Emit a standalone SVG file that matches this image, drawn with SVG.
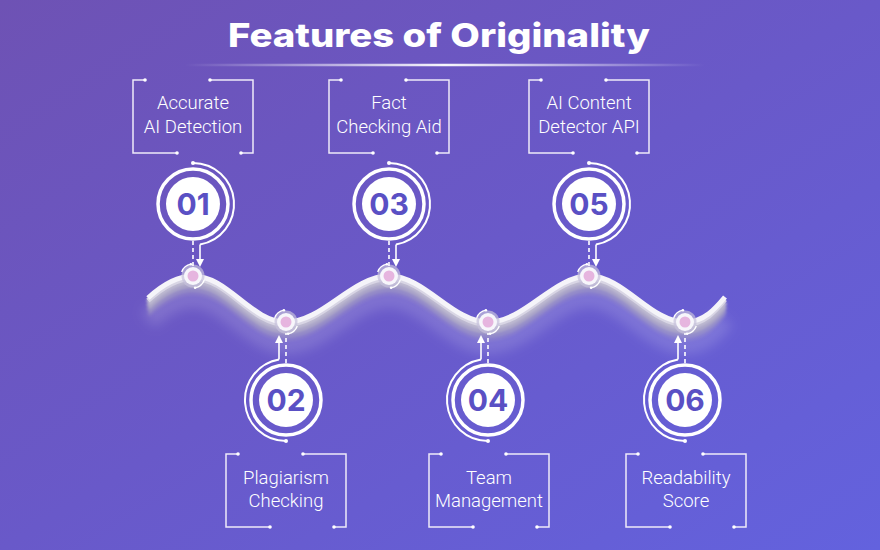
<svg xmlns="http://www.w3.org/2000/svg" xmlns:xlink="http://www.w3.org/1999/xlink" width="880" height="550" viewBox="0 0 880 550">
<defs>
  <linearGradient id="bg" x1="0" y1="0" x2="1" y2="1">
    <stop offset="0" stop-color="#6e52b4"/>
    <stop offset="0.5" stop-color="#6959c9"/>
    <stop offset="1" stop-color="#6362de"/>
  </linearGradient>
  <linearGradient id="uline" gradientUnits="userSpaceOnUse" x1="185" y1="0" x2="705" y2="0">
    <stop offset="0" stop-color="#ffffff" stop-opacity="0"/>
    <stop offset="0.5" stop-color="#ffffff" stop-opacity="0.95"/>
    <stop offset="1" stop-color="#ffffff" stop-opacity="0"/>
  </linearGradient>
  <filter id="glow" x="-10%" y="-100%" width="120%" height="300%">
    <feGaussianBlur stdDeviation="6"/>
  </filter>
  <filter id="soft" x="-10%" y="-100%" width="120%" height="300%">
    <feGaussianBlur stdDeviation="1.2"/>
  </filter>
  <marker id="arr" viewBox="0 0 6 6" refX="3" refY="3" markerWidth="5" markerHeight="5" orient="auto">
    <path d="M0,0 L6,3 L0,6 z" fill="#ffffff"/>
  </marker>
  <path id="wave" fill="none" d="M148,298 C160,287 176,276 193,276 C228,276 251,322 286,322 C323,322 352,276 389,276 C425,276 452,322 488,322 C525,322 553,276 589,276 C624,276 650,322 685,322 C704,322 716,308 725,297"/>
  <g id="box" class="bracket">
    <path d="M12,0 H0 V73 H44 M77,0 H120 V73 H108"/>
    <circle cx="12" cy="0" r="1.8" class="dotf"/>
    <circle cx="44" cy="73" r="1.8" class="dotf"/>
    <circle cx="77" cy="0" r="1.8" class="dotf"/>
    <circle cx="108" cy="73" r="1.8" class="dotf"/>
  </g>
  <g id="wnode">
    <circle r="11.5" fill="#c6c1dc" opacity="0.7"/>
    <circle r="9" fill="#f7f6fb"/>
    <circle r="5.5" fill="#e6b5df"/>
    <path d="M-11.28,-4.1 A12,12 0 0 1 -2.08,-11.82 M11.28,4.1 A12,12 0 0 1 2.08,11.82" fill="none" stroke="#ffffff" stroke-width="1.4"/>
    <circle cx="-2.08" cy="-11.82" r="1.3" fill="#ffffff"/>
    <circle cx="2.08" cy="11.82" r="1.3" fill="#ffffff"/>
  </g>
  <g id="ring">
    <circle r="35" fill="none" stroke="#ffffff" stroke-width="3.5"/>
    <circle r="27" fill="#ffffff"/>
  </g>
</defs>
<style>
  .bracket path { fill: none; stroke: #eeeaf9; stroke-width: 1.5; }
  .dotf { fill: #ffffff; }
  .lbl { font-family: Roboto, "Liberation Sans", sans-serif; font-weight: 300; font-size: 18.5px; fill: #ffffff; text-anchor: middle; }
  .num { font-family: Inter, "Liberation Sans", sans-serif; font-weight: 700; font-size: 30px; fill: #5a50c4; text-anchor: middle; }
  .arc { fill: none; stroke: #ffffff; stroke-width: 2; }
  .dash { fill: none; stroke: #ffffff; stroke-width: 1.6; stroke-dasharray: 4 3; }
  .solid { fill: none; stroke: #ffffff; stroke-width: 1.6; }
</style>

<rect width="880" height="550" fill="url(#bg)"/>

<g id="title">
  <text x="439" y="47" text-anchor="middle" font-family="Inter, 'Liberation Sans', sans-serif" font-weight="800" font-size="33" fill="#ffffff" textLength="422" lengthAdjust="spacingAndGlyphs">Features of Originality</text>
  <line x1="185" y1="65" x2="705" y2="65" stroke="url(#uline)" stroke-width="2.5"/>
</g>

<g id="wave-ribbon">
  <use href="#wave" transform="translate(0,22)" stroke="#ffffff" stroke-opacity="0.15" stroke-width="20" filter="url(#glow)"/>
  <g filter="url(#soft)">
    <use href="#wave" transform="translate(0,17)" stroke="#a39dc2" stroke-opacity="0.25" stroke-width="5"/>
    <use href="#wave" transform="translate(0,13)" stroke="#a8a2c4" stroke-opacity="0.55" stroke-width="6"/>
    <use href="#wave" transform="translate(0,9)" stroke="#b0abc8" stroke-opacity="0.85" stroke-width="6"/>
    <use href="#wave" transform="translate(0,5)" stroke="#bdb9d0" stroke-width="6"/>
  </g>
  <use href="#wave" transform="translate(0,2.5)" stroke="#d8d5e4" stroke-width="5"/>
  <use href="#wave" stroke="#f5f4f9" stroke-width="5"/>
</g>

<g id="wave-points">
  <use href="#wnode" x="193" y="276"/>
  <use href="#wnode" x="286" y="322"/>
  <use href="#wnode" x="389" y="276"/>
  <use href="#wnode" x="488" y="322"/>
  <use href="#wnode" x="589" y="276"/>
  <use href="#wnode" x="685" y="322"/>
</g>

<g id="connectors">
  <path class="dash" d="M193,241 V266 M389,241 V266 M589,241 V266"/>
  <path class="solid" d="M200,244.4 V263" marker-end="url(#arr)"/>
  <path class="solid" d="M396,244.4 V263" marker-end="url(#arr)"/>
  <path class="solid" d="M596,244.4 V263" marker-end="url(#arr)"/>
  <path class="dash" d="M286,363 V333 M488,363 V333 M685,363 V333"/>
  <path class="solid" d="M279,359.6 V339" marker-end="url(#arr)"/>
  <path class="solid" d="M481,359.6 V339" marker-end="url(#arr)"/>
  <path class="solid" d="M678,359.6 V339" marker-end="url(#arr)"/>
</g>

<g id="node-01">
  <use href="#box" x="133" y="80"/>
  <text class="lbl" x="193" y="109">Accurate</text>
  <text class="lbl" x="193" y="133">AI Detection</text>
  <use href="#ring" x="193" y="204"/>
  <path class="arc" d="M193,163 A41,41 0 0 1 200,244.4"/>
  <circle cx="193" cy="163" r="2" class="dotf"/>
  <text class="num" x="193" y="215">01</text>
</g>

<g id="node-03">
  <use href="#box" x="329" y="80"/>
  <text class="lbl" x="389" y="109">Fact</text>
  <text class="lbl" x="389" y="133">Checking Aid</text>
  <use href="#ring" x="389" y="204"/>
  <path class="arc" d="M389,163 A41,41 0 0 1 396,244.4"/>
  <circle cx="389" cy="163" r="2" class="dotf"/>
  <text class="num" x="389" y="215">03</text>
</g>

<g id="node-05">
  <use href="#box" x="529" y="80"/>
  <text class="lbl" x="589" y="109">AI Content</text>
  <text class="lbl" x="589" y="133">Detector API</text>
  <use href="#ring" x="589" y="204"/>
  <path class="arc" d="M589,163 A41,41 0 0 1 596,244.4"/>
  <circle cx="589" cy="163" r="2" class="dotf"/>
  <text class="num" x="589" y="215">05</text>
</g>

<g id="node-02">
  <use href="#ring" x="286" y="400"/>
  <path class="arc" d="M286,441 A41,41 0 0 1 279,359.6"/>
  <circle cx="286" cy="441" r="2" class="dotf"/>
  <text class="num" x="286" y="411">02</text>
  <use href="#box" x="226" y="454"/>
  <text class="lbl" x="286" y="484">Plagiarism</text>
  <text class="lbl" x="286" y="507">Checking</text>
</g>

<g id="node-04">
  <use href="#ring" x="488" y="400"/>
  <path class="arc" d="M488,441 A41,41 0 0 1 481,359.6"/>
  <circle cx="488" cy="441" r="2" class="dotf"/>
  <text class="num" x="488" y="411">04</text>
  <use href="#box" x="429" y="454"/>
  <text class="lbl" x="489" y="484">Team</text>
  <text class="lbl" x="489" y="507">Management</text>
</g>

<g id="node-06">
  <use href="#ring" x="685" y="400"/>
  <path class="arc" d="M685,441 A41,41 0 0 1 678,359.6"/>
  <circle cx="685" cy="441" r="2" class="dotf"/>
  <text class="num" x="685" y="411">06</text>
  <use href="#box" x="626" y="454"/>
  <text class="lbl" x="686" y="484">Readability</text>
  <text class="lbl" x="686" y="507">Score</text>
</g>
</svg>
